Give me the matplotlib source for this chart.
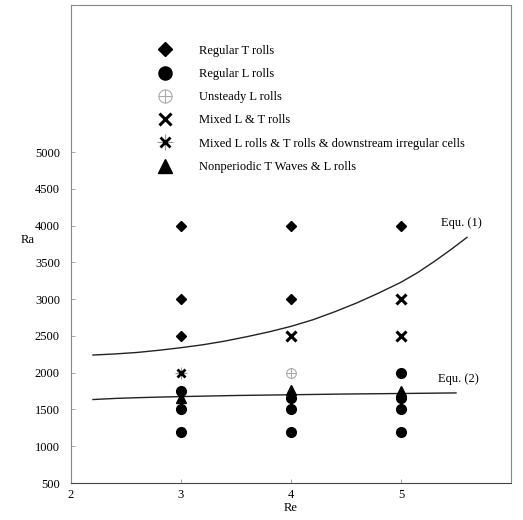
import matplotlib
matplotlib.use("Agg")
import matplotlib.pyplot as plt
from matplotlib.legend_handler import HandlerTuple

plt.rcParams['font.family'] = ['Liberation Serif', 'DejaVu Serif']

# ---- data ----
re_regT = [3, 3, 3, 4, 4, 5]
ra_regT = [4000, 3000, 2500, 4000, 3000, 4000]

re_regL = [3, 3, 3, 4, 4, 4, 5, 5, 5, 5]
ra_regL = [1750, 1500, 1200, 1650, 1500, 1200, 2000, 1650, 1500, 1200]

re_unst = [4]
ra_unst = [2000]

re_mixLT = [4, 5, 5]
ra_mixLT = [2500, 3000, 2500]

re_mixIrr = [3]
ra_mixIrr = [2000]

re_tri = [3, 4, 5]
ra_tri = [1660, 1760, 1750]

# Equ. (1) and Equ. (2) curves
eq1_re = [2.2, 2.4, 2.6, 2.8, 3.0, 3.2, 3.4, 3.6, 3.8, 4.0, 4.2, 4.4, 4.6, 4.8, 5.0, 5.15, 5.3, 5.45, 5.6]
eq1_ra = [2240, 2255, 2275, 2305, 2340, 2380, 2430, 2490, 2555, 2630, 2720, 2830, 2950, 3085, 3230, 3360, 3510, 3670, 3840]
eq2_re = [2.2, 2.4, 2.6, 2.8, 3.0, 3.5, 4.0, 4.5, 5.0, 5.5]
eq2_ra = [1635, 1650, 1660, 1668, 1675, 1690, 1700, 1710, 1717, 1725]

fig = plt.figure(figsize=(5.23, 5.20), dpi=100)
ax = fig.add_axes([71/523, 1-483/520, 440/523, 478/520])

ax.plot(eq1_re, eq1_ra, color='#222222', lw=1.0, zorder=2)
ax.plot(eq2_re, eq2_ra, color='#222222', lw=1.0, zorder=2)

hT, = ax.plot(re_regT, ra_regT, 'D', color='black', ms=5.5, ls='none', zorder=3)
hL, = ax.plot(re_regL, ra_regL, 'o', color='black', ms=7, ls='none', zorder=3)
hU1, = ax.plot(re_unst, ra_unst, 'o', mfc='white', mec='#aaaaaa', mew=0.8, ms=7, ls='none', zorder=3)
hU2, = ax.plot(re_unst, ra_unst, '+', color='#aaaaaa', mew=0.8, ms=7, ls='none', zorder=4)
hX, = ax.plot(re_mixLT, ra_mixLT, 'x', color='black', mew=2.2, ms=6.5, ls='none', zorder=3)
hA1, = ax.plot(re_mixIrr, ra_mixIrr, '+', color='#999999', mew=0.8, ms=9, ls='none', zorder=3)
hA2, = ax.plot(re_mixIrr, ra_mixIrr, 'x', color='black', mew=2.0, ms=5.5, ls='none', zorder=4)
hTr, = ax.plot(re_tri, ra_tri, '^', color='black', ms=7, ls='none', zorder=3)

ax.text(5.36, 4030, 'Equ. (1)', fontsize=9, va='center', ha='left')
ax.text(5.34, 1910, 'Equ. (2)', fontsize=9, va='center', ha='left')

labels = ['Regular T rolls', 'Regular L rolls', 'Unsteady L rolls', 'Mixed L & T rolls',
          'Mixed L rolls & T rolls & downstream irregular cells',
          'Nonperiodic T Waves & L rolls']
ax.legend([hT, hL, (hU1, hU2), hX, (hA1, hA2), hTr], labels,
          handler_map={tuple: HandlerTuple(ndivide=1, pad=0)},
          loc='upper left', bbox_to_anchor=(0.2, 0.917), frameon=False,
          fontsize=9, handlelength=1.0, handletextpad=2.2, labelspacing=0.9,
          borderpad=0, borderaxespad=0, markerscale=1.35)

ax.set_xlim(2, 6)
ax.set_ylim(500, 7000)
ax.set_xticks([2, 3, 4, 5])
ax.set_yticks([500, 1000, 1500, 2000, 2500, 3000, 3500, 4000, 4500, 5000])
ax.tick_params(direction='in', length=3, width=0.6, color='#999999', labelsize=9)
ax.tick_params(axis='y', pad=8)
ax.tick_params(axis='x', pad=4)

for s in ax.spines.values():
    s.set_color('#888888')
    s.set_linewidth(0.8)
ax.spines['bottom'].set_color('#444444')

ax.set_xlabel('Re', fontsize=9, labelpad=1)
ax.set_ylabel('Ra', fontsize=9, rotation=0, va='center', ha='center')
ax.yaxis.set_label_coords(-0.098, (483-240)/478)

fig.savefig('out.png', dpi=100)
